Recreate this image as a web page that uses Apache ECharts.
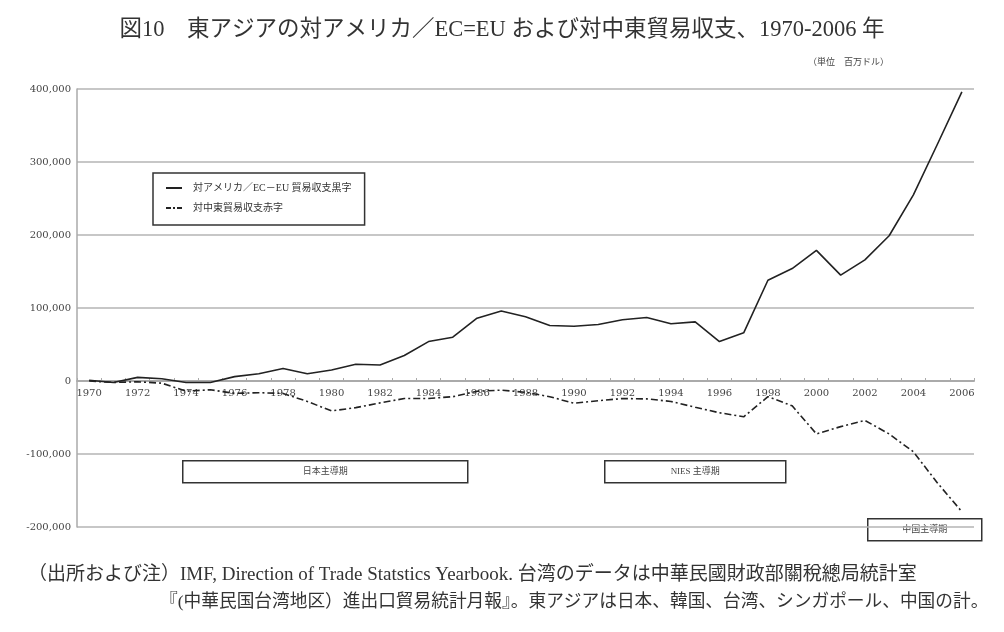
<!DOCTYPE html>
<html>
<head>
<meta charset="utf-8">
<script src="https://cdn.jsdelivr.net/npm/echarts@6/dist/echarts.min.js"></script>
<style>
  html, body { margin: 0; padding: 0; background: #fff; }
  #main { width: 1004px; height: 632px; }
</style>
</head>
<body>
<div id="main"></div>
<script>
// 年
const years = []
for (let y = 1970; y <= 2006; y++) years.push(String(y))

// 対アメリカ／EC=EU 貿易収支黒字（百万ドル）
const surplusUsEu = [
  1000, -2000, 5000, 3000, -2000, -2000, 6000, 10000, 17000, 10000,
  15000, 23000, 22000, 35000, 54000, 60000, 86000, 96000, 88000, 76000,
  75000, 77500, 84000, 87000, 78500, 81000, 54000, 66000, 138000, 154000,
  179000, 145000, 166000, 199000, 255000, 325000, 396000
]

// 対中東貿易収支赤字（百万ドル）
const deficitMideast = [
  0, -2000, -1000, -3000, -14000, -12000, -17000, -16000, -17000, -28000,
  -41000, -36500, -30000, -24000, -24000, -21500, -14000, -12500, -15500, -21500,
  -30500, -27000, -24000, -24500, -28000, -36000, -43500, -49000, -21500, -34000,
  -72500, -62500, -54000, -72500, -97000, -140000, -179000
]

const yTicks = { min: -200000, max: 400000, step: 100000 }

const serif = '"DejaVu Serif", "Liberation Serif", serif'
const cjk = '"Liberation Serif", "Noto Sans CJK JP", sans-serif'

const chart = echarts.init(document.getElementById('main'))

// 期間の注記ボックス
const periodBox = (x, y, w, h, label) => ({
  type: 'group',
  left: x,
  top: y,
  children: [
    { type: 'rect', shape: { x: 0, y: 0, width: w, height: h },
      style: { fill: '#fff', stroke: '#333', lineWidth: 1.5 } },
    { type: 'text', x: w / 2, y: h / 2,
      style: { text: label, fill: '#444', font: '9px ' + cjk, align: 'center', verticalAlign: 'middle' } }
  ]
})

// x軸は0の線の上に置く（グリッド下端からのずれ）
const gridTop = 89, gridBottom = 527
const zeroShift = (gridBottom - gridTop) * (0 - yTicks.min) / (yTicks.max - yTicks.min)

chart.setOption({
  animation: false,
  backgroundColor: '#fff',
  title: {
    text: '図10　東アジアの対アメリカ／EC=EU および対中東貿易収支、1970-2006 年',
    left: 'center',
    top: 14,
    textStyle: { fontFamily: cjk, fontSize: 22.5, fontWeight: 'normal', color: '#333' }
  },
  grid: { left: 77, right: 30, top: gridTop, bottom: 632 - gridBottom, containLabel: false },
  legend: {
    orient: 'vertical',
    left: 153,
    top: 173,
    padding: [8, 13, 10, 13],
    itemGap: 6,
    itemWidth: 16,
    itemHeight: 2,
    borderColor: '#333',
    borderWidth: 1.5,
    textStyle: { fontFamily: cjk, fontSize: 10, lineHeight: 14, color: '#333', padding: [0, 0, 0, 6] },
    data: [
      { name: '対アメリカ／EC－EU 貿易収支黒字', icon: 'path://M0,0h16v2h-16z' },
      { name: '対中東貿易収支赤字', icon: 'path://M0,0h5v2h-5zM7,0h2v2h-2zM11,0h5v2h-5z' }
    ]
  },
  xAxis: {
    type: 'category',
    data: years,
    boundaryGap: true,
    offset: -zeroShift,
    axisLine: { onZero: false, lineStyle: { color: '#aaa', width: 2 } },
    axisTick: { show: true, interval: 0, inside: true, length: 3, lineStyle: { color: '#aaa' } },
    axisLabel: { interval: 1, margin: 7, fontFamily: serif, fontSize: 10, color: '#444' },
    splitLine: { show: false }
  },
  yAxis: {
    type: 'value',
    min: yTicks.min,
    max: yTicks.max,
    interval: yTicks.step,
    axisLine: { show: true, lineStyle: { color: '#aaa', width: 1.5 } },
    axisTick: { show: false },
    axisLabel: {
      margin: 6,
      fontFamily: serif,
      fontSize: 10,
      color: '#444',
      formatter: v => v.toLocaleString('en-US')
    },
    splitLine: { lineStyle: { color: '#b4b4b4', width: 1.5 } }
  },
  series: [
    {
      name: '対アメリカ／EC－EU 貿易収支黒字',
      type: 'line',
      data: surplusUsEu,
      symbol: 'none',
      lineStyle: { color: '#222', width: 1.6 },
      itemStyle: { color: '#222' }
    },
    {
      name: '対中東貿易収支赤字',
      type: 'line',
      data: deficitMideast,
      symbol: 'none',
      lineStyle: { color: '#222', width: 1.6, type: [7, 3, 2, 3] },
      itemStyle: { color: '#222' }
    }
  ],
  graphic: [
    { type: 'text', left: 808, top: 58,
      style: { text: '（単位　百万ドル）', fill: '#444', font: '9px ' + cjk } },
    periodBox(182, 460, 285, 22, '日本主導期'),
    periodBox(604, 460, 181, 22, 'NIES 主導期'),
    periodBox(867, 518, 114, 22, '中国主導期'),
    { type: 'text', left: 28, top: 566,
      style: { text: '（出所および注）IMF, Direction of Trade Statstics Yearbook. 台湾のデータは中華民國財政部關稅總局統計室',
               fill: '#333', font: '19px ' + cjk } },
    { type: 'text', left: 160, top: 594,
      style: { text: '『(中華民国台湾地区）進出口貿易統計月報』。東アジアは日本、韓国、台湾、シンガポール、中国の計。',
               fill: '#333', font: '17.7px ' + cjk } }
  ]
})
</script>
</body>
</html>
